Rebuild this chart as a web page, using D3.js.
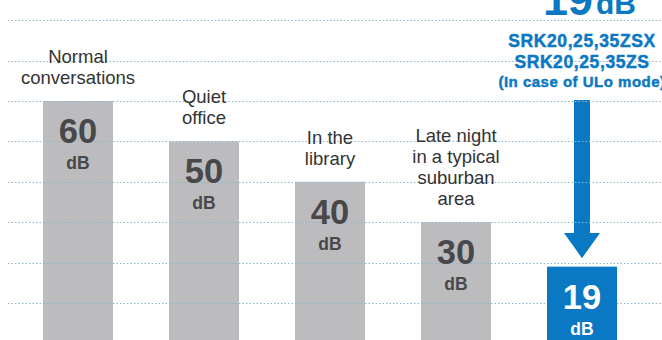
<!DOCTYPE html>
<html>
<head>
<meta charset="utf-8">
<script src="https://cdn.jsdelivr.net/npm/d3@7"></script>
<style>
  html, body { margin: 0; padding: 0; background: #fff; }
  svg { display: block; }
  text { font-family: "Liberation Sans", Arial, Helvetica, sans-serif; }
</style>
</head>
<body>
<svg id="chart" width="662" height="340"></svg>
<script>
// Noise levels (dB) for everyday situations and the indoor unit in ULo mode
const categories = [
  ["Normal", "conversations"],
  ["Quiet", "office"],
  ["In the", "library"],
  ["Late night", "in a typical", "suburban", "area"],
  []
];
const values = [60, 50, 40, 30, 19];
const unit = "dB";
const gridTicks = [0, 10, 20, 30, 40, 50, 60, 70, 80];
const modelLines = ["SRK20,25,35ZSX", "SRK20,25,35ZS", "(In case of ULo mode)"];

const W = 662, H = 340;
const GREY = "#bcbcbf", NUM = "#48484a", BLUE = "#0a78c2", LABEL = "#333333";

const svg = d3.select("#chart");

const x = d3.scaleBand()
  .domain(d3.range(values.length))
  .range([15, 645])
  .paddingInner(56 / 126)
  .paddingOuter(28 / 126);

const y = d3.scaleLinear().domain([0, 80]).range([343.4, 20.2]);

const highlight = values.length - 1;

// grey bars for reference situations
svg.append("g").selectAll("rect")
  .data(values.slice(0, highlight))
  .join("rect")
  .attr("x", (d, i) => x(i))
  .attr("y", d => y(d))
  .attr("width", x.bandwidth())
  .attr("height", d => y(0) - y(d))
  .attr("fill", GREY);

// downward arrow toward the highlighted bar
const cx = x(highlight) + x.bandwidth() / 2;
const shaftTop = 100, headTop = 233, tip = y(values[highlight]) - 8.5;
svg.append("path")
  .attr("d", `M${cx - 8},${shaftTop} L${cx + 8},${shaftTop} L${cx + 8},${headTop}
              L${cx + 18},${headTop} L${cx},${tip} L${cx - 18},${headTop}
              L${cx - 8},${headTop} Z`)
  .attr("fill", BLUE);

// dotted horizontal grid
svg.append("g").selectAll("line")
  .data(gridTicks)
  .join("line")
  .attr("x1", 8).attr("x2", W)
  .attr("y1", d => Math.round(y(d)) + 0.5)
  .attr("y2", d => Math.round(y(d)) + 0.5)
  .attr("stroke", "#8fb6c9")
  .attr("stroke-width", 1)
  .attr("stroke-dasharray", "1.5,2");

// highlighted bar
svg.append("rect")
  .attr("x", x(highlight))
  .attr("y", y(values[highlight]))
  .attr("width", x.bandwidth())
  .attr("height", y(0) - y(values[highlight]))
  .attr("fill", BLUE);

// values inside the bars
const vals = svg.append("g").selectAll("g")
  .data(values)
  .join("g")
  .attr("transform", (d, i) => `translate(${x(i) + x.bandwidth() / 2},${y(d)})`)
  .attr("text-anchor", "middle")
  .attr("font-weight", "bold")
  .attr("fill", (d, i) => i === highlight ? "#fff" : NUM);
vals.append("text")
  .attr("y", 42)
  .attr("font-size", 34.5)
  .text(d => d);
vals.append("text")
  .attr("y", 68)
  .attr("font-size", 17.5)
  .text(unit);

// situation labels above the grey bars
const labels = svg.append("g").selectAll("text")
  .data(categories)
  .join("text")
  .attr("text-anchor", "middle")
  .attr("font-size", 18.5)
  .attr("fill", LABEL)
  .attr("transform", (d, i) =>
    `translate(${x(i) + x.bandwidth() / 2},${y(values[i]) - 17 - (d.length - 1) * 21})`);
labels.selectAll("tspan")
  .data(d => d)
  .join("tspan")
  .attr("x", 0)
  .attr("dy", (d, j) => j === 0 ? 0 : 21)
  .text(d => d);

// headline value above the arrow
svg.append("text")
  .attr("fill", BLUE).attr("font-weight", "bold")
  .attr("x", 593).attr("y", 15).attr("text-anchor", "end")
  .attr("font-size", 45).text(values[highlight]);
svg.append("text")
  .attr("fill", BLUE).attr("font-weight", "bold")
  .attr("x", 596).attr("y", 14).attr("font-size", 30).text(unit);

// model names
const models = svg.append("g")
  .attr("text-anchor", "middle")
  .attr("fill", BLUE)
  .attr("stroke", BLUE)
  .attr("stroke-width", 0.45)
  .attr("font-weight", "bold");
models.append("text").attr("x", cx).attr("y", 47)
  .attr("font-size", 17.5).attr("letter-spacing", 0.6).text(modelLines[0]);
models.append("text").attr("x", cx).attr("y", 68)
  .attr("font-size", 17.5).attr("letter-spacing", 0.6).text(modelLines[1]);
models.append("text").attr("x", cx).attr("y", 87)
  .attr("font-size", 15).attr("letter-spacing", 0.5).text(modelLines[2]);
</script>
</body>
</html>
